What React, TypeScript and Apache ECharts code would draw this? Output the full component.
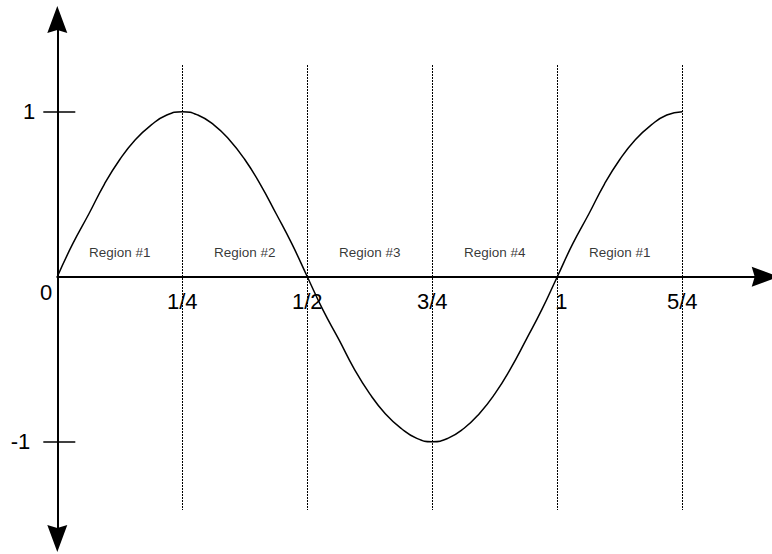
import React, { useEffect, useRef } from 'react';
import * as echarts from 'echarts';

// Curve samples (x in cycles, y amplitude)
const CURVE_X = [
  0, 0.031, 0.063, 0.094, 0.125, 0.156, 0.188, 0.219, 0.25,
  0.281, 0.313, 0.344, 0.375, 0.406, 0.438, 0.469, 0.5,
  0.531, 0.563, 0.594, 0.625, 0.656, 0.688, 0.719, 0.75,
  0.781, 0.813, 0.844, 0.875, 0.906, 0.938, 0.969, 1,
  1.031, 1.063, 1.094, 1.125, 1.156, 1.188, 1.219, 1.25,
];
const CURVE_Y = [
  0, 0.2, 0.38, 0.56, 0.71, 0.83, 0.92, 0.98, 1,
  0.98, 0.92, 0.83, 0.71, 0.56, 0.38, 0.2, 0,
  -0.2, -0.38, -0.56, -0.71, -0.83, -0.92, -0.98, -1,
  -0.98, -0.92, -0.83, -0.71, -0.56, -0.38, -0.2, 0,
  0.2, 0.38, 0.56, 0.71, 0.83, 0.92, 0.98, 1,
];

const DIVIDER_X = [0.25, 0.5, 0.75, 1, 1.25];
const DIVIDER_TOP = 1.283;
const DIVIDER_BOTTOM = -1.414;

const REGION_X = [0.125, 0.375, 0.625, 0.875, 1.125];
const REGION_Y = 0.145;
const REGION_NAMES = ['Region #1', 'Region #2', 'Region #3', 'Region #4', 'Region #1'];

const X_TICK_VALUES = [0.25, 0.5, 0.75, 1, 1.25];
const X_TICK_LABELS = ['1/4', '1/2', '3/4', '1', '5/4'];
const Y_TICK_VALUES = [1, -1];
const Y_LABEL_VALUES = [1, 0, -1];
const Y_TICK_LABELS = ['1', '0', '-1'];

const Y_MIN = -1.5867;
const Y_MAX = 1.5588;

const FONT = '"Liberation Sans", Arial, Helvetica, sans-serif';
const ARROW = 'path://M10,0 L20,27 L10,24 L0,27 Z';

const findIdx = (arr: number[], v: number) => arr.findIndex((a) => Math.abs(a - v) < 1e-6);

export default function App() {
  const ref = useRef<HTMLDivElement>(null);
  useEffect(() => {
    if (!ref.current) return;
    const chart = echarts.init(ref.current, undefined, { renderer: 'svg' });
    const txt = { fontSize: 22, fontFamily: FONT, color: '#000' };
    const gridHeight = 519;
    // x axis sits at value 0 of the y range
    const zeroOffset = -(gridHeight * (0 - Y_MIN)) / (Y_MAX - Y_MIN);
    const option: any = {
      animation: false,
      backgroundColor: '#fff',
      grid: {
        left: 57.3,
        top: 19.5,
        width: 707.9,
        height: gridHeight,
        containLabel: false,
        outerBoundsMode: 'none',
      },
      xAxis: {
        type: 'value',
        min: 0,
        max: 1.4158,
        position: 'bottom',
        offset: zeroOffset,
        axisLine: {
          show: true,
          onZero: false,
          symbol: ['none', ARROW],
          symbolSize: [20, 27],
          lineStyle: { color: '#000', width: 2 },
        },
        axisTick: { show: false },
        splitLine: { show: false },
        axisLabel: {
          customValues: X_TICK_VALUES,
          margin: 14,
          ...txt,
          formatter: (v: number) => {
            const i = findIdx(X_TICK_VALUES, v);
            if (i < 0) return '';
            const s = X_TICK_LABELS[i];
            return s === '1' ? '{s|1}' : s;
          },
          rich: { s: { ...txt, padding: [0, 0, 0, 8] } },
        },
      },
      yAxis: [
        {
          type: 'value',
          min: Y_MIN,
          max: Y_MAX,
          axisLine: {
            show: true,
            onZero: false,
            symbol: [ARROW, ARROW],
            symbolSize: [20, 27],
            lineStyle: { color: '#000', width: 2 },
          },
          axisTick: {
            show: true,
            customValues: Y_TICK_VALUES,
            length: 14,
            lineStyle: { color: '#000', width: 1.5 },
          },
          splitLine: { show: false },
          axisLabel: {
            customValues: Y_LABEL_VALUES,
            margin: 5,
            ...txt,
            formatter: (v: number) => {
              const i = findIdx(Y_LABEL_VALUES, v);
              if (i < 0) return '';
              const s = Y_TICK_LABELS[i];
              if (s === '1') return '{a|1}';
              if (s === '-1') return '{b|-1}';
              return '{z|0}';
            },
            rich: {
              a: { ...txt, padding: [0, 17, 0, 0] },
              b: { ...txt, padding: [0, 22, 0, 0] },
              z: { ...txt, padding: [32, 0, 0, 0] },
            },
          },
        },
        {
          type: 'value',
          position: 'left',
          min: Y_MIN,
          max: Y_MAX,
          axisLine: { show: false, onZero: false },
          axisTick: {
            show: true,
            inside: true,
            customValues: Y_TICK_VALUES,
            length: 18,
            lineStyle: { color: '#000', width: 1.5 },
          },
          axisLabel: { show: false },
          splitLine: { show: false },
        },
      ],
      series: [
        {
          type: 'line',
          data: [],
          silent: true,
          markLine: {
            silent: true,
            symbol: ['none', 'none'],
            label: { show: false },
            lineStyle: { type: [2, 1], color: '#000', width: 1 },
            data: DIVIDER_X.map((x) => [
              { coord: [x, DIVIDER_TOP] },
              { coord: [x, DIVIDER_BOTTOM] },
            ]),
          },
        },
        {
          type: 'line',
          data: CURVE_X.map((x, i) => [x, CURVE_Y[i]]),
          showSymbol: false,
          smooth: true,
          silent: true,
          lineStyle: { color: '#000', width: 1.5 },
          z: 3,
        },
        {
          type: 'scatter',
          symbolSize: 0,
          silent: true,
          data: REGION_X.map((x, i) => ({ value: [x, REGION_Y], name: REGION_NAMES[i] })),
          label: {
            show: true,
            position: 'inside',
            formatter: '{b}',
            fontSize: 13.5,
            fontFamily: FONT,
            color: '#000',
          },
        },
      ],
    };
    chart.setOption(option);
    return () => chart.dispose();
  }, []);
  return (
    <div
      ref={ref}
      style={{ position: 'fixed', left: 0, top: 0, width: 772, height: 554, background: '#fff' }}
    />
  );
}
